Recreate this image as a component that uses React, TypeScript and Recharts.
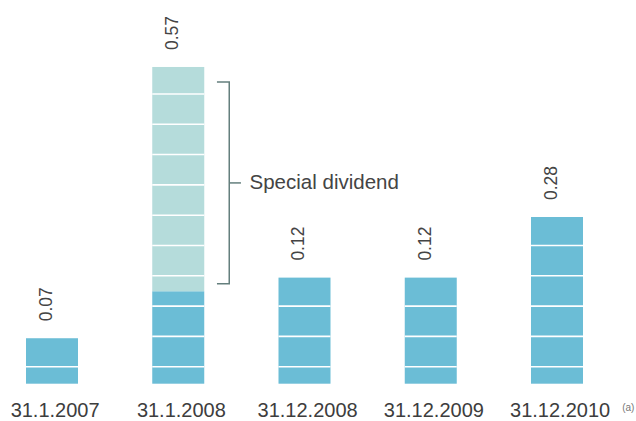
import { BarChart, Bar, XAxis, YAxis, LabelList } from 'recharts';

// bar heights are read off the picture (one white segment = 1 unit); the chart is not drawn to scale
const categories = ['31.1.2007', '31.1.2008', '31.12.2008', '31.12.2009', '31.12.2010'];
const valueLabels = ['0.07', '0.57', '0.12', '0.12', '0.28'];
const notes = ['', '', '', '', '(a)'];
const ordinaryHeight = [1.5, 3.05, 3.5, 3.5, 5.5];
const specialHeight = [0, 7.4, 0, 0, 0];
const segmentLines = [0.56, 1.56, 2.56, 3.56, 4.56, 5.56, 6.56, 7.56, 8.56, 9.56];
const bracketLabel = 'Special dividend';

const data = categories.map((name, i) => ({
  name,
  ordinary: ordinaryHeight[i],
  special: specialHeight[i],
  label: valueLabels[i],
  note: notes[i],
}));

const FONT = '"Liberation Sans", Arial, Helvetica, sans-serif';
const DARK = '#6bbdd6';
const LIGHT = '#b5dcdb';
const BRACKET = '#647f7d';

function segmented(key: 'ordinary' | 'special') {
  return (props: any) => {
    const { x, y, width, height, payload, fill, index } = props;
    if (!height || height <= 0) return <g />;
    const low = key === 'ordinary' ? 0 : payload.ordinary;
    const high = low + payload[key];
    const ppu = height / (high - low);
    const bottom = y + height;
    const lines = segmentLines
      .filter((v) => v > low && v < high)
      .map((v) => bottom - (v - low) * ppu);
    const bx = x + width + 25;
    const top = y + 15;
    const bot = y + height - 7.4;
    const mid = (top + bot) / 2;
    return (
      <g>
        <rect x={x} y={y} width={width} height={height} fill={fill} />
        {lines.map((ly, i) => (
          <line key={i} x1={x} x2={x + width} y1={ly} y2={ly} stroke="#fff" strokeWidth={1.6} />
        ))}
        {key === 'special' && index === 1 && (
          <g>
            <polyline
              points={`${x + width + 12.7},${top} ${bx},${top} ${bx},${bot} ${x + width + 12.7},${bot}`}
              fill="none"
              stroke={BRACKET}
              strokeWidth={1.5}
            />
            <line x1={bx} x2={bx + 11.7} y1={mid} y2={mid} stroke={BRACKET} strokeWidth={1.5} />
            <text x={bx + 20.3} y={mid + 6.5} fontSize={20.5} fontFamily={FONT} fill="#444">
              {bracketLabel}
            </text>
          </g>
        )}
      </g>
    );
  };
}

function valueLabel(key: 'ordinary' | 'special') {
  return (props: any) => {
    const { x, y, width, index } = props;
    const d = data[index];
    if (!d) return null;
    if (key === 'ordinary' && d.special > 0) return null;
    if (key === 'special' && !(d.special > 0)) return null;
    const cx = x + width / 2;
    const ty = y - 17;
    return (
      <text
        x={cx}
        y={ty}
        transform={`rotate(-90, ${cx}, ${ty})`}
        textAnchor="start"
        fontSize={17.5}
        fontFamily={FONT}
        fill="#444"
      >
        {d.label}
      </text>
    );
  };
}

function CategoryTick(props: any) {
  const { x, y, payload, index } = props;
  const note = notes[index];
  return (
    <g>
      <text x={x + 3} y={y + 32.8} textAnchor="middle" fontSize={20} fontFamily={FONT} fill="#3d3d3d">
        {payload.value}
      </text>
      {note && (
        <text x={x + 65} y={y + 27} fontSize={10} fontFamily={FONT} fill="#777">
          {note}
        </text>
      )}
    </g>
  );
}

export default function App() {
  return (
    <div style={{ position: 'fixed', left: 0, top: 0, width: 636, height: 421, overflow: 'hidden', background: '#fff' }}>
      <div style={{ position: 'absolute', left: -11.125, top: 0 }}>
        <BarChart
          width={647}
          height={421}
          data={data}
          margin={{ top: 20, right: 15.75, bottom: 0, left: 0 }}
        >
          <XAxis
            dataKey="name"
            axisLine={false}
            tickLine={false}
            tickSize={0}
            tickMargin={0}
            height={37.3}
            interval={0}
            tick={<CategoryTick />}
          />
          <YAxis hide domain={[0, 12]} />
          <Bar
            dataKey="ordinary"
            stackId="a"
            fill={DARK}
            barSize={52}
            isAnimationActive={false}
            shape={segmented('ordinary')}
          >
            <LabelList dataKey="label" content={valueLabel('ordinary')} />
          </Bar>
          <Bar
            dataKey="special"
            stackId="a"
            fill={LIGHT}
            barSize={52}
            isAnimationActive={false}
            shape={segmented('special')}
          >
            <LabelList dataKey="label" content={valueLabel('special')} />
          </Bar>
        </BarChart>
      </div>
    </div>
  );
}
